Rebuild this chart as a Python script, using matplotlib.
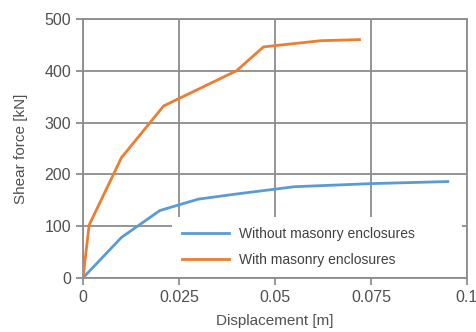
import matplotlib.pyplot as plt

plt.rcParams['font.family'] = ['Liberation Sans', 'DejaVu Sans']

# displacement [m] / shear force [kN]
disp_without = [0.0, 0.010, 0.020, 0.030, 0.040, 0.055, 0.075, 0.095]
force_without = [0, 78, 130, 152, 162, 176, 182, 186]

disp_with = [0.0, 0.0016, 0.010, 0.021, 0.040, 0.047, 0.062, 0.072]
force_with = [0, 102, 232, 332, 400, 446, 458, 460]

x_ticks = [0, 0.025, 0.05, 0.075, 0.1]
x_labels = ['0', '0.025', '0.05', '0.075', '0.1']
y_ticks = [0, 100, 200, 300, 400, 500]

GRID = '#8c8c8c'

fig = plt.figure(figsize=(4.77, 3.32), dpi=100)
ax = fig.add_axes([0.174, 0.163, 0.805, 0.78])

ax.plot(disp_without, force_without, color='#5b9bd5', lw=2, label='Without masonry enclosures', zorder=3)
ax.plot(disp_with, force_with, color='#ed7d31', lw=2, label='With masonry enclosures', zorder=3)

ax.set_xlim(0, 0.1)
ax.set_ylim(0, 500)
ax.set_xticks(x_ticks)
ax.set_xticklabels(x_labels)
ax.set_yticks(y_ticks)
ax.grid(True, color=GRID, lw=1.3, zorder=1)
ax.set_axisbelow(True)
for s in ax.spines.values():
    s.set_color(GRID)
    s.set_linewidth(1.3)
ax.tick_params(colors=GRID, labelcolor='#505050', labelsize=11.5, length=5, width=1.3)

ax.set_xlabel('Displacement [m]', fontsize=11, color='#505050', labelpad=7)
ax.set_ylabel('Shear force [kN]', fontsize=11, color='#505050', labelpad=12)

leg = ax.legend(loc='lower left', bbox_to_anchor=(0.232, 0.005, 0.755, 0.2), mode='expand',
                borderaxespad=0, fontsize=10, frameon=True, fancybox=False, framealpha=1,
                edgecolor='none', handlelength=3.4, handletextpad=0.7, borderpad=0.7,
                labelspacing=0.85, labelcolor='#404040')
leg.set_zorder(5)

fig.savefig('out.png', dpi=100)
